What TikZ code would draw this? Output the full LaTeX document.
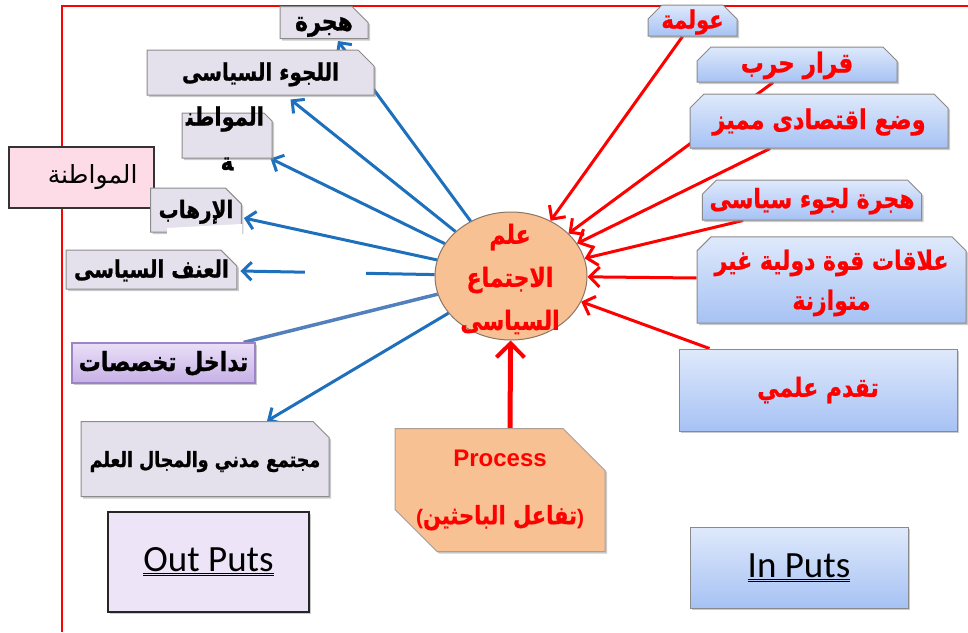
\documentclass[tikz,border=0pt]{standalone}
\usepackage{fontspec}
\usepackage{graphicx}
\setmainfont{Liberation Sans}
\newfontfamily\arabicfont[Script=Arabic,BoldFeatures={FakeBold=1}]{DejaVu Sans}
\newfontfamily\calib{Carlito}
\TeXXeTstate=1
\usetikzlibrary{shapes.misc,shapes.geometric,arrows.meta,shadows}
\pgfdeclarelayer{bg}\pgfsetlayers{bg,main}
\definecolor{frame}{HTML}{FF0000}
\definecolor{lav}{HTML}{E5E1EC}
\definecolor{lavline}{HTML}{8C8C8C}
\definecolor{pinkf}{HTML}{FDDCE8}
\definecolor{purtop}{HTML}{EADFF7}
\definecolor{purbot}{HTML}{C6B0E6}
\definecolor{purline}{HTML}{9D84C8}
\definecolor{outf}{HTML}{EDE4F7}
\definecolor{btop}{HTML}{DFE9FB}
\definecolor{bbot}{HTML}{A6C2F4}
\definecolor{bline}{HTML}{8A8A8A}
\definecolor{peach}{HTML}{F8C193}
\definecolor{peachline}{HTML}{8A7565}
\definecolor{arrblue}{HTML}{1F70BC}
\definecolor{steel}{HTML}{5280BD}
\definecolor{arrred}{HTML}{FF0000}
\newcommand{\ar}[1]{\scalebox{1}[1.2]{\arabicfont\bfseries\beginR #1\endR}}
\newcommand{\fs}[1]{\fontsize{#1}{#1}\selectfont}
\begin{document}
\begin{tikzpicture}[x=1pt,y=-1pt,
  shd/.style={drop shadow={shadow xshift=2pt,shadow yshift=-2pt,fill=black!45,opacity=.45}},
  fixtext/.style={text height=16pt,text depth=0pt},
  lbox/.style={chamfered rectangle,chamfered rectangle corners=north east,chamfered rectangle xsep=8pt,chamfered rectangle ysep=8pt,
    fill=lav,draw=lavline,line width=1pt,inner sep=0pt,shd,fixtext,font=\fs{20},text=black},
  rbox/.style={chamfered rectangle,chamfered rectangle corners={north east,north west},chamfered rectangle xsep=7pt,chamfered rectangle ysep=7pt,
    top color=btop,bottom color=bbot,draw=bline,line width=1pt,inner sep=0pt,shd,font=\fs{21},text=arrred},
  rboxs/.style={rbox,fixtext},
  pbox/.style={rectangle,top color=btop,bottom color=bbot,draw=bline,line width=1pt,inner sep=0pt,shd},
  bluearr/.style={draw=arrblue,line width=3pt,-{Straight Barb[length=9pt,width=18pt,line width=3pt]}},
  redarr/.style={draw=arrred,line width=3pt,-{Straight Barb[length=10pt,width=20pt,line width=3pt]}},
  white patch/.style={fill=white,draw=none}]
\useasboundingbox (0,0) rectangle (968,632);
% frame
\draw[frame,line width=2pt] (62,632) -- (62,6) -- (968,6);

% left boxes
\node[lbox,minimum width=88,minimum height=31,font=\fs{22}] (hijra) at (324,22.5) {\ar{هجرة}};
\node[lbox,minimum width=227,minimum height=45] (lujoo) at (260.5,72.5) {\ar{اللجوء السياسى}};
\node[lbox,minimum width=90,minimum height=45] (muw) at (227,135.5) {};
\node[font=\fs{21},inner sep=0pt] (muwt1) at (225,119) {\ar{المواطن‍}};
\node[font=\fs{21},inner sep=0pt] (muwt2) at (227,164) {\ar{‍ة}};
\node[rectangle,fill=pinkf,draw=black!80,line width=1.5pt,minimum width=145,minimum height=61,inner sep=0pt,
  text width=112pt,align=right,font=\fs{25}] (pink) at (81.5,177.5) {{\arabicfont\beginR المواطنة\endR}};
\node[lbox,minimum width=88,minimum height=44,font=\fs{20}] (irhab) at (196,210) {\ar{الإرهاب}};
\node[lbox,minimum width=155,minimum height=39] (unf) at (151.5,269.5) {\ar{العنف السياسى}};
\node[rectangle,top color=purtop,bottom color=purbot,draw=purline,line width=1.2pt,minimum width=183,minimum height=40,inner sep=0pt,shd,
  fixtext,font=\fs{22}] (tad) at (163.5,363) {\ar{تداخل تخصصات}};
\node[lbox,minimum width=248,minimum height=75,font=\fs{17.5}] (mujt) at (205,459) {\ar{مجتمع مدني والمجال العلم}};
\node[rectangle,fill=outf,draw=black!85,line width=1.8pt,minimum width=201,minimum height=100,inner sep=0pt,shd,
  font=\calib\fs{37}] (outp) at (208.5,562) {\underline{\underline{Out Puts}}};

% right boxes
\node[rboxs,minimum width=89,minimum height=31] (awl) at (692.5,20.5) {\ar{عولمة}};
\node[rboxs,minimum width=200,minimum height=35,font=\fs{23}] (qarar) at (797,64.5) {\ar{قرار حرب}};
\node[rboxs,minimum width=258,minimum height=54,font=\fs{22.5}] (wad) at (819,121) {\ar{وضع اقتصادى مميز}};
\node[rboxs,minimum width=210,minimum height=40,font=\fs{22}] (hij2) at (812,200) {\ar{هجرة لجوء سياسى}};
\node[rbox,minimum width=269,minimum height=80,align=center,font=\fontsize{22}{40}\selectfont] (alaq) at (831.5,280) {\rule{0pt}{26pt}\ar{علاقات قوة دولية غير}\\\ar{متوازنة}};
\node[pbox,minimum width=278,minimum height=82,font=\fs{22},text=arrred] (taq) at (818,390) {\ar{تقدم علمي}};
\node[pbox,minimum width=218,minimum height=81,font=\calib\fs{37}] (inp) at (799,567.5) {\underline{\underline{In Puts}}};

% process
\node[chamfered rectangle,chamfered rectangle corners={north east,south west},chamfered rectangle xsep=21pt,chamfered rectangle ysep=21pt,
  fill=peach,draw=peachline!70,line width=1pt,minimum width=210,minimum height=123,inner sep=0pt,shd,
  align=center,text=arrred,font=\bfseries\fontsize{24}{30}\selectfont] (proc) at (500,490)
  {Process\\[28pt]{\fs{21}(\ar{تفاعل الباحثين})}};

% central ellipse
\node[ellipse,fill=peach,draw=peachline,line width=1pt,minimum width=152,minimum height=128,inner sep=0pt] (soc) at (511,276) {};
\node[align=center,text=arrred,font=\fontsize{22}{43}\selectfont,inner sep=0pt] (soct) at (510,279)
  {\ar{علم}\\\ar{الاجتماع}\\\ar{السياسى}};

% connectors
\begin{pgfonlayer}{bg}
\draw[bluearr] (soc) -- ([xshift=14pt,yshift=-2pt]hijra.south);
\draw[bluearr] (soc) -- ([xshift=30pt,yshift=-4pt]lujoo.south);
\draw[bluearr] (soc) -- ([xshift=-2pt]muw.south east);
\draw[bluearr] (soc) -- ([xshift=2pt,yshift=-8pt]irhab.east);
\draw[bluearr] (soc) -- ([xshift=3pt,yshift=-1.5pt]unf.east);
\draw[draw=steel,line width=3.5pt] (soc) -- ([xshift=-12pt]tad.north east);
\draw[bluearr] (soc) -- ([xshift=62pt]mujt.north);

\draw[redarr] ([xshift=-10pt]awl.south) -- (soc);
\draw[redarr] ([xshift=-24pt]qarar.south) -- (soc);
\draw[redarr] ([xshift=-49pt]wad.south) -- (soc);
\draw[redarr] ([xshift=-69pt]hij2.south) -- (soc);
\draw[redarr] ([yshift=2pt]alaq.west) -- (soc);
\draw[redarr] ([xshift=31pt]taq.north west) -- (soc);
\draw[draw=arrred,line width=5pt,-{Straight Barb[length=14pt,width=28pt,line width=4pt]}] ([xshift=10pt]proc.north) -- (soc);
\end{pgfonlayer}

% white patches seen in the picture
\fill[white patch] (305,262) rectangle (366,282);
\fill[white patch] (167,228) -- (242,224) -- (242,243) -- (167,243) -- cycle;
\end{tikzpicture}
\end{document}
